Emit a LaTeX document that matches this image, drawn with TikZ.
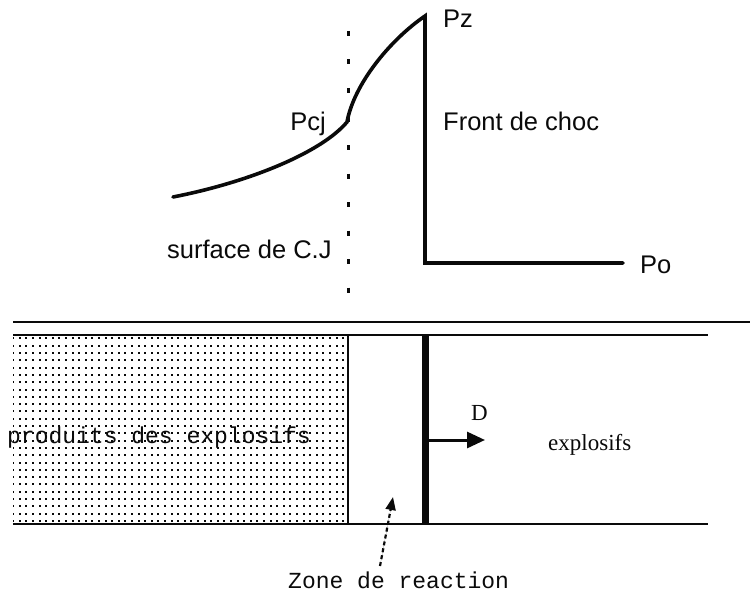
\documentclass[tikz,border=0pt]{standalone}
\usepackage{fontspec}
\setmainfont{Liberation Serif}
\setsansfont{Liberation Sans}
\setmonofont{Liberation Mono}
\usepackage{tikz}
\usetikzlibrary{positioning, arrows.meta, patterns}
\definecolor{InkBlack}{RGB}{10,10,10}
\pgfdeclarepatternformonly{sparsedots}{\pgfpoint{-1.2pt}{-1.2pt}}{\pgfpoint{1.2pt}{1.2pt}}{\pgfpoint{6.6pt}{7.3pt}}{%
  \pgfpathrectangle{\pgfpoint{-1pt}{-1pt}}{\pgfpoint{2pt}{2pt}}\pgfusepath{fill}}
\tikzset{
  lbl/.style={font=\sffamily\fontsize{25.5}{30}\selectfont, inner sep=0pt, anchor=base west, text=InkBlack},
  ttlbl/.style={font=\ttfamily\fontsize{23}{27}\selectfont, inner sep=0pt, anchor=base west, text=InkBlack},
  rmlbl/.style={font=\rmfamily\fontsize{23}{27}\selectfont, inner sep=0pt, anchor=base west, text=InkBlack},
  profile/.style={draw=InkBlack, line width=3.6pt, line cap=round},
  cjline/.style={draw=InkBlack, line width=3pt, dash pattern=on 5pt off 23.5pt},
  wall/.style={draw=InkBlack, line width=2.8pt},
  thinwall/.style={draw=InkBlack, line width=2pt},
  frontline/.style={draw=InkBlack, line width=7pt},
  velarrow/.style={-{Triangle[length=18pt,width=16pt]}, draw=InkBlack, fill=InkBlack, line width=3pt},
  ptrarrow/.style={-{Triangle[length=13pt,width=10pt]}, draw=InkBlack, fill=InkBlack, line width=2.2pt,
    dash pattern=on 4pt off 3pt},
}

\begin{document}
\begin{tikzpicture}[x=1pt, y=-1pt]
  \useasboundingbox (0,0) rectangle (750,594);
  % pressure profile
  \coordinate (tail) at (173,197);
  \coordinate (pcj) at (347,122);
  \coordinate (pz) at (425,16);
  \coordinate (zfoot) at (425,263);
  \coordinate (poend) at (623,263);
  \draw[profile] (tail) .. controls (250,182) and (322,152) .. (pcj)
    .. controls (354,84) and (390,40) .. (pz) -- (zfoot) -- (poend);
  \coordinate (cjtop) at (348,31);
  \coordinate (cjbot) at (348,296);
  \draw[cjline] (cjtop) -- (cjbot);
  \node[lbl] (pzlab) at (443,28) {Pz};
  \node[lbl, anchor=base east] (pcjlab) at (326,130) {Pcj};
  \node[lbl] (frontlab) at (443,130) {Front de choc};
  \node[lbl] (cjlab) at (167,258) {surface de C.J};
  \node[lbl] (polab) at (640,273) {Po};

  % tube
  \coordinate (rulel) at (13,322);
  \coordinate (ruler) at (750,322);
  \draw[wall] (rulel) -- (ruler);
  \coordinate (tubetl) at (13,335);
  \coordinate (tubetr) at (708,335);
  \coordinate (tubebl) at (13,524);
  \coordinate (tubebr) at (708,524);
  \coordinate (cjwt) at (348,335);
  \coordinate (cjwb) at (348,524);
  \coordinate (frt) at (425,335);
  \coordinate (frb) at (425,524);
  \fill[pattern=sparsedots, pattern color=InkBlack] (tubetl) rectangle (cjwb);
  \draw[wall] (tubetl) -- (tubetr);
  \draw[wall] (tubebl) -- (tubebr);
  \draw[thinwall] (cjwt) -- (cjwb);
  \draw[frontline] (frt) -- (frb);
  \coordinate (dfoot) at (425,440);
  \coordinate (dtip) at (485,440);
  \draw[velarrow] (dfoot) -- (dtip);
  \node[rmlbl] (dlab) at (471,420) {D};
  \node[rmlbl] (explab) at (548,450) {explosifs};
  \node[ttlbl] (prodlab) at (7,443) {produits des explosifs};
  \node[ttlbl] (zonelab) at (288,588) {Zone de reaction};
  \coordinate (zonetail) at (380,566);
  \coordinate (zonetip) at (393,497);
  \draw[ptrarrow] (zonetail) -- (zonetip);
\end{tikzpicture}
\end{document}
